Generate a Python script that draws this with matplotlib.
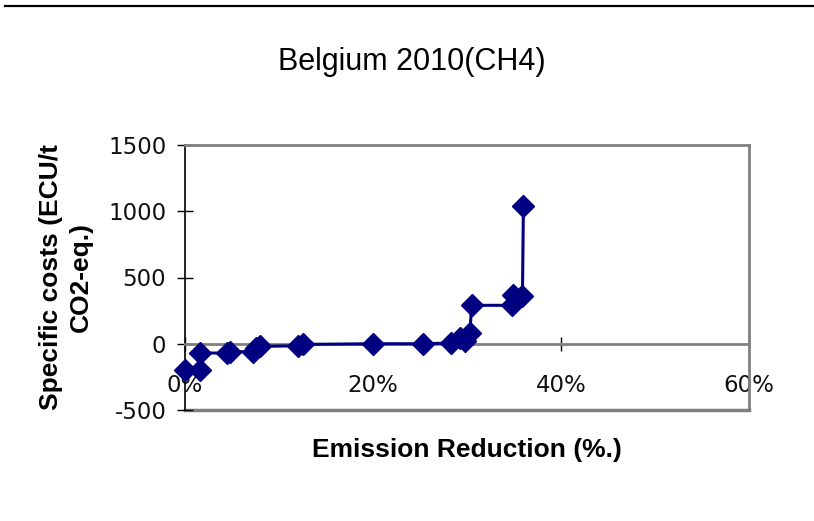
import matplotlib
matplotlib.use("Agg")
import matplotlib.pyplot as plt
from matplotlib.ticker import FuncFormatter

# Cost curve: cumulative emission reduction (fraction) vs specific cost
reduction = [0.000, 0.016, 0.016, 0.045, 0.048, 0.072, 0.076, 0.080,
             0.120, 0.125, 0.200, 0.253, 0.283, 0.293, 0.298, 0.303,
             0.305, 0.348, 0.349, 0.359, 0.360]
cost = [-200, -200, -70, -70, -60, -60, -30, -20,
        -15, -5, 0, 0, 5, 40, 20, 80,
        290, 290, 370, 360, 1040]

x_ticks = [0.0, 0.2, 0.4, 0.6]
y_ticks = [-500, 0, 500, 1000, 1500]

title_text = "Belgium 2010(CH4)"
x_title = "Emission Reduction (%.)"
y_title = "Specific costs (ECU/t\nCO2-eq.)"

plt.rcParams["axes.unicode_minus"] = False

W, H, DPI = 814, 521, 100
fig = plt.figure(figsize=(W / DPI, H / DPI), dpi=DPI)
fig.patch.set_facecolor("white")

# plot area in pixels: x 185..749, y 145..410
L, R, T, B = 185, 749, 145, 410
ax = fig.add_axes([L / W, 1 - B / H, (R - L) / W, (B - T) / H])

navy = "#000080"
ax.plot(reduction, cost, color=navy, lw=2.2, marker="D", ms=11,
        markerfacecolor=navy, markeredgecolor=navy, zorder=5, clip_on=False)

ax.set_xlim(0, 0.6)
ax.set_ylim(-500, 1500)
ax.set_xticks(x_ticks)
ax.set_yticks(y_ticks)
ax.xaxis.set_major_formatter(FuncFormatter(lambda v, p: f"{v*100:.0f}%"))

grey = "#808080"
for side in ("top", "right"):
    ax.spines[side].set_color(grey)
    ax.spines[side].set_linewidth(2)
ax.spines["left"].set_color("black")
ax.spines["left"].set_linewidth(1.2)
ax.spines["bottom"].set_position(("data", 0))
ax.spines["bottom"].set_color(grey)
ax.spines["bottom"].set_linewidth(2)
ax.axhline(-500, color=grey, lw=2.5, zorder=1, clip_on=False)

ax.tick_params(axis="y", direction="inout", length=11, width=1, color="black",
               labelsize=16.5, pad=8)
ax.tick_params(axis="x", direction="inout", length=10, width=1, color="black",
               labelsize=16.5, pad=17)
for lab in ax.get_xticklabels() + ax.get_yticklabels():
    lab.set_fontfamily("DejaVu Sans")
    lab.set_color("#111111")

fig.text(412 / W, 1 - 62 / H, title_text, ha="center", va="center",
         fontsize=22, family="Liberation Sans")
fig.text(467 / W, 1 - 450 / H, x_title, ha="center", va="center",
         fontsize=19, fontweight="bold", family="Liberation Sans")
fig.text(66 / W, 1 - 277 / H, y_title, ha="center", va="center",
         rotation=90, fontsize=19, fontweight="bold", family="Liberation Sans",
         linespacing=1.3)

# rule across the top of the page
fig.add_artist(plt.Line2D([5 / W, 1.0], [1 - 6 / H, 1 - 6 / H], color="black", lw=1.6))

fig.savefig("out.png", dpi=DPI, facecolor="white")
